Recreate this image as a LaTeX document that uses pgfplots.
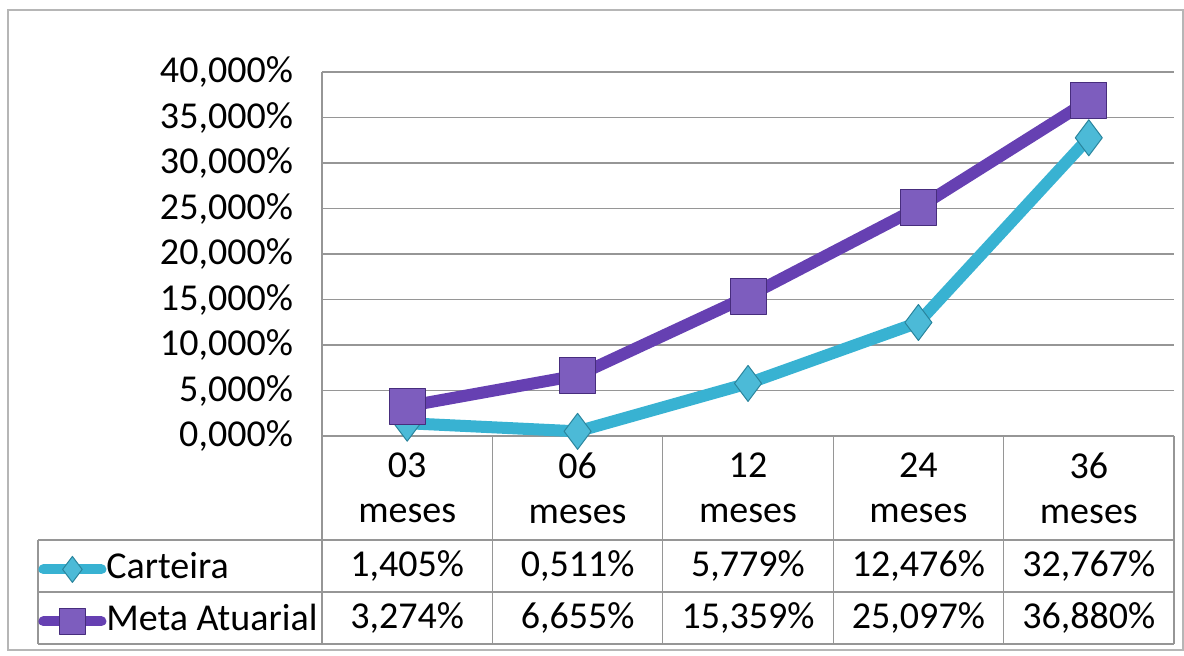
\documentclass[border=0pt]{standalone}
\usepackage{pgfplots}
\pgfplotsset{compat=1.18}
\usepackage{fontspec}
\setmainfont{Carlito}
\definecolor{cart}{RGB}{56,178,210}
\definecolor{meta}{RGB}{102,64,178}
\definecolor{gridc}{RGB}{150,150,150}

\begin{document}
\begin{tikzpicture}[font=\fontsize{19}{22.5}\selectfont]
\begin{axis}[
    name=ax,
    scale only axis,
    width=426pt, height=182pt,
    xmin=-0.5, xmax=4.5,
    ymin=0, ymax=40,
    clip=false,
    axis line style={draw=none},
    major tick length=0pt,
    xtick={0,1,2,3,4},
    xticklabels={03\\meses,06\\meses,12\\meses,24\\meses,36\\meses},
    xticklabel style={align=center, anchor=center, yshift=-26pt},
    ytick={0,5,...,40},
    yticklabel={\pgfmathprintnumber[fixed,fixed zerofill,precision=3,use comma]{\tick}\%},
    yticklabel style={xshift=-11pt},
    /pgf/number format/assume math mode=true,
    ymajorgrids,
    grid style={gridc, line width=0.6pt},
    legend style={at={(axis description cs:0,0)}, anchor=north west,
        xshift=-142pt, yshift=-58pt, draw=none, fill=none, inner sep=0pt,
        row sep=9pt, column sep=0pt,
        nodes={inner sep=0pt, text height=13pt, text depth=4pt}},
    legend cell align=left,
    legend image code/.code={
        \draw[#1, line width=5pt, mark size=6.5pt, mark repeat=2, mark phase=2]
        plot coordinates {(0pt,0pt)(14.5pt,0pt)(29pt,0pt)};},
]
\addplot[cart, line width=6pt, line cap=round, line join=round,
    mark=diamond*, mark size=9pt,
    mark options={fill=cart!90!white, draw=cart!75!black, line width=0.5pt}]
    coordinates {(0,1.405)(1,0.511)(2,5.779)(3,12.476)(4,32.767)};
\addlegendentry{Carteira}
\addplot[meta, line width=6pt, line cap=round, line join=round,
    mark=square*, mark size=9pt,
    mark options={fill=meta!85!white, draw=meta!70!black, line width=0.5pt}]
    coordinates {(0,3.274)(1,6.655)(2,15.359)(3,25.097)(4,36.880)};
\addlegendentry{Meta Atuarial}

% data table lines
\draw[gridc, line width=0.6pt] (axis cs:-0.5,40) -- ([yshift=-104pt]axis cs:-0.5,0);
\draw[gridc, line width=0.6pt] (axis cs:0.5,0) -- ([yshift=-104pt]axis cs:0.5,0);
\draw[gridc, line width=0.6pt] (axis cs:1.5,0) -- ([yshift=-104pt]axis cs:1.5,0);
\draw[gridc, line width=0.6pt] (axis cs:2.5,0) -- ([yshift=-104pt]axis cs:2.5,0);
\draw[gridc, line width=0.6pt] (axis cs:3.5,0) -- ([yshift=-104pt]axis cs:3.5,0);
\draw[gridc, line width=0.6pt] (axis cs:4.5,0) -- ([yshift=-104pt]axis cs:4.5,0);
\draw[gridc, line width=0.6pt] ([shift={(-142pt,-52pt)}]axis cs:-0.5,0) -- ([yshift=-52pt]axis cs:4.5,0);
\draw[gridc, line width=0.6pt] ([shift={(-142pt,-78pt)}]axis cs:-0.5,0) -- ([yshift=-78pt]axis cs:4.5,0);
\draw[gridc, line width=0.6pt] ([shift={(-142pt,-104pt)}]axis cs:-0.5,0) -- ([yshift=-104pt]axis cs:4.5,0);
\draw[gridc, line width=0.6pt] ([shift={(-142pt,-52pt)}]axis cs:-0.5,0) -- ([shift={(-142pt,-104pt)}]axis cs:-0.5,0);

% data table values
\node at ([yshift=-65pt]axis cs:0,0) {1,405\%};
\node at ([yshift=-65pt]axis cs:1,0) {0,511\%};
\node at ([yshift=-65pt]axis cs:2,0) {5,779\%};
\node at ([yshift=-65pt]axis cs:3,0) {12,476\%};
\node at ([yshift=-65pt]axis cs:4,0) {32,767\%};
\node at ([yshift=-91pt]axis cs:0,0) {3,274\%};
\node at ([yshift=-91pt]axis cs:1,0) {6,655\%};
\node at ([yshift=-91pt]axis cs:2,0) {15,359\%};
\node at ([yshift=-91pt]axis cs:3,0) {25,097\%};
\node at ([yshift=-91pt]axis cs:4,0) {36,880\%};
\end{axis}
\draw[gridc!70, line width=0.6pt] ([shift={(-157pt,-107pt)}]ax.south west) rectangle ([shift={(4.5pt,31pt)}]ax.north east);
\pgfresetboundingbox
\path[use as bounding box] ([shift={(-161pt,-110pt)}]ax.south west) rectangle ([shift={(5pt,36pt)}]ax.north east);
\end{tikzpicture}
\end{document}
